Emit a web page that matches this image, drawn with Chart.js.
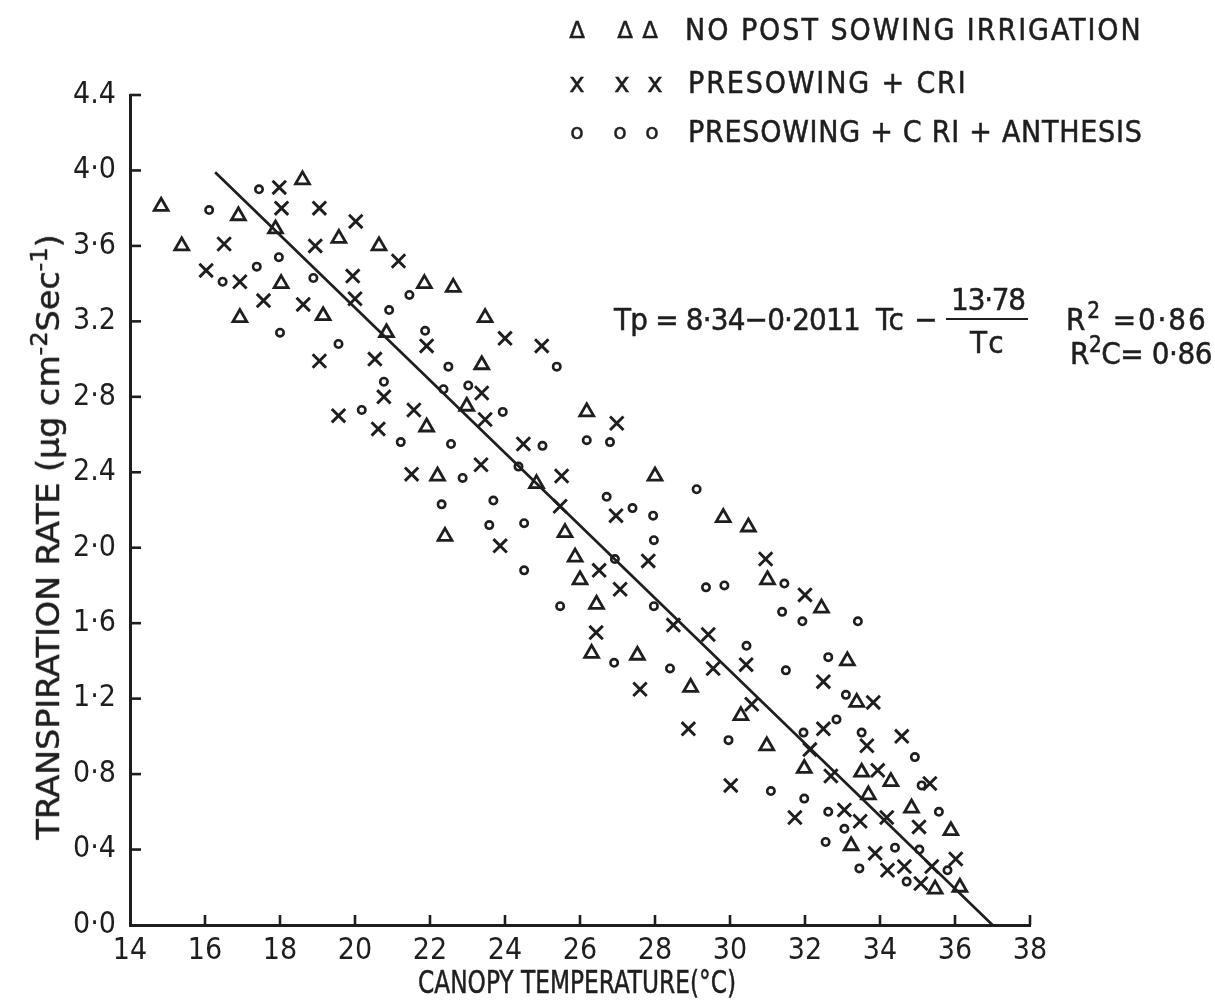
<!DOCTYPE html>
<html><head><meta charset="utf-8">
<script src="https://cdn.jsdelivr.net/npm/chart.js@4.4.1/dist/chart.umd.min.js"></script>
<style>
html,body{margin:0;padding:0;background:#fff;}
#wrap{position:relative;width:1215px;height:1001px;overflow:hidden;background:#fff;}
#c{position:absolute;left:0;top:0;}
.t{position:absolute;white-space:nowrap;color:#1e1e1e;font-family:'Liberation Sans Narrow','DejaVu Sans Condensed','Liberation Sans',sans-serif;font-size:30px;line-height:1;-webkit-text-stroke:0.5px #1e1e1e;}
.t sup{font-size:0.72em;vertical-align:0.5em;line-height:0;}
.sym{transform:translate(-50%,-50%);font-family:'DejaVu Sans','Liberation Sans',sans-serif;}
.lt{transform:translateY(-50%);}
.ct{transform:translate(-50%,-50%);}
#bar{position:absolute;border-top:2.5px solid #1e1e1e;}
</style></head>
<body><div id="wrap">
<canvas id="c" width="1215" height="1001"></canvas>
<div class="t sym" style="left:577px;top:30px;font-size:23px">Δ</div>
<div class="t sym" style="left:625px;top:30px;font-size:23px">Δ</div>
<div class="t sym" style="left:650px;top:30px;font-size:23px">Δ</div>
<div class="t lt" style="left:685px;top:30px" data-w="458">NO POST SOWING IRRIGATION</div>
<div class="t sym" style="left:577px;top:83px;font-size:26px">x</div>
<div class="t sym" style="left:622px;top:83px;font-size:26px">x</div>
<div class="t sym" style="left:655px;top:83px;font-size:26px">x</div>
<div class="t lt" style="left:688px;top:83px" data-w="280">PRESOWING + CRI</div>
<div class="t sym" style="left:577px;top:132px;font-size:22px">o</div>
<div class="t sym" style="left:620px;top:132px;font-size:22px">o</div>
<div class="t sym" style="left:652px;top:132px;font-size:22px">o</div>
<div class="t lt" style="left:688px;top:132px" data-w="455">PRESOWING + C RI + ANTHESIS</div>
<div class="t lt" style="left:614px;top:319px;font-size:31px" data-w="246">Tp = 8·34−0·2011</div>
<div class="t lt" style="left:876px;top:319px;font-size:31px" data-w="62">Tc −</div>
<div class="t ct" style="left:988px;top:299px;font-size:31px" data-w="74">13·78</div>
<div id="bar" style="left:946px;top:318px;width:82px"></div>
<div class="t ct" style="left:990px;top:342px;font-size:31px" data-w="40">Tc</div>
<div class="t lt" style="left:1066px;top:319px;font-size:31px" data-w="141">R<sup>2</sup> =0·86</div>
<div class="t lt" style="left:1070px;top:353px;font-size:31px" data-w="142">R<sup>2</sup>C= 0·86</div>
<div class="t" id="ytitle" style="left:48px;top:537px;font-size:32px" data-sw="605" data-rot="1">TRANSPIRATION RATE (µg cm<sup>-2</sup>Sec<sup>-1</sup>)</div>
<div class="t" id="xtitle" style="left:577px;top:982px;font-size:32px" data-sw="318">CANOPY TEMPERATURE(°C)</div>
</div>
<script>
// ---------- data ----------
const xTickValues = [14,16,18,20,22,24,26,28,30,32,34,36,38];
const xTickLabels = ['14','16','18','20','22','24','26','28','30','32','34','36','38'];
const yTickLabels = ['0·0','0·4','0·8','1·2','1·6','2·0','2.4','2·8','3.2','3·6','4·0','4.4'];

// NO POST SOWING IRRIGATION (triangles)
const noIrrTemp = [14.83,16.89,18.6,17.88,15.38,19.57,20.64,18.03,21.85,19.15,16.93,20.84,21.91,
  22.62,23.47,23.38,22.98,26.18,22.2,24.84,28.0,25.6,22.4,25.87,26.0,
  29.82,30.49,31.0,26.44,26.31,27.53,28.95,30.29,30.98,
  32.44,33.13,33.38,31.98,33.51,34.29,33.69,34.84,35.89,33.23,35.47,36.13];
const noIrrRate = [3.81,3.76,3.95,3.69,3.60,3.64,3.60,3.40,3.40,3.23,3.22,3.14,2.64,
  3.38,3.22,2.97,2.75,2.72,2.38,2.34,2.38,2.08,2.06,1.95,1.83,
  2.16,2.11,1.83,1.70,1.44,1.43,1.26,1.11,0.95,
  1.68,1.40,1.18,0.83,0.81,0.76,0.69,0.62,0.50,0.42,0.19,0.20];

// PRESOWING + CRI (crosses)
const criTemp = [17.98,18.04,19.05,20.02,16.51,18.94,21.16,16.03,16.93,19.94,20.0,17.56,18.62,21.91,19.05,20.53,20.77,19.56,20.62,21.57,
  24.0,24.98,23.38,23.47,24.49,26.98,21.51,23.36,25.51,25.47,26.96,23.87,27.82,26.51,27.07,
  30.95,28.49,29.42,26.43,27.6,29.55,30.43,30.58,28.89,30.02,
  32.0,32.49,33.82,32.49,33.65,34.58,32.13,32.69,33.94,35.33,31.73,33.05,33.47,34.18,35.04,33.87,36.02,34.2,34.65,35.38,35.09];
const criRate = [3.91,3.80,3.80,3.73,3.61,3.60,3.52,3.47,3.41,3.44,3.32,3.31,3.29,3.07,2.99,3.00,2.80,2.70,2.63,2.73,
  3.11,3.07,2.82,2.68,2.55,2.66,2.39,2.44,2.38,2.22,2.17,2.01,1.93,1.88,1.78,
  1.94,1.59,1.54,1.55,1.25,1.36,1.38,1.17,1.04,0.74,
  1.75,1.29,1.18,1.04,0.95,1.00,0.93,0.79,0.82,0.75,0.57,0.61,0.55,0.57,0.52,0.38,0.35,0.29,0.31,0.31,0.22];

// PRESOWING + CRI + ANTHESIS (circles)
const anthTemp = [16.11,17.44,17.97,17.38,16.47,18.89,21.45,20.91,21.87,18.0,19.56,20.77,20.18,21.22,
  25.38,22.49,22.36,23.02,23.94,22.56,25.0,26.18,26.8,22.87,24.36,29.11,22.31,23.69,26.71,27.4,27.95,23.58,24.51,27.97,26.93,24.51,
  31.45,29.36,29.85,31.39,25.47,27.97,26.91,28.4,30.44,31.49,29.96,31.09,
  31.93,33.41,32.62,33.09,32.84,31.96,33.51,34.93,35.11,31.98,32.62,33.05,35.57,32.55,34.4,35.05,33.45,35.8,34.71];
const anthRate = [3.79,3.90,3.54,3.49,3.41,3.43,3.34,3.26,3.15,3.14,3.08,2.88,2.73,2.56,
  2.96,2.96,2.84,2.86,2.72,2.55,2.54,2.57,2.56,2.37,2.43,2.31,2.23,2.25,2.27,2.21,2.17,2.12,2.13,2.04,1.94,1.88,
  1.81,1.79,1.80,1.66,1.69,1.69,1.39,1.36,1.48,1.35,0.98,0.71,
  1.61,1.61,1.42,1.22,1.09,1.02,1.02,0.89,0.74,0.67,0.60,0.51,0.60,0.44,0.41,0.40,0.30,0.29,0.23];

// fitted line (as drawn)
const fitTemp = [16.27, 37.0];
const fitRate = [3.99, 0.0];

// ---------- chart ----------
const INK = '#1e1e1e';
const FONT = "'Liberation Sans Narrow','DejaVu Sans Condensed','Liberation Sans',sans-serif";
const zip = (a,b) => a.map((v,i)=>({x:v,y:b[i]}));

const inwardTicks = {
  id:'inwardTicks',
  afterDraw(chart){
    const {ctx, chartArea:a, scales:{x,y}} = chart;
    ctx.save(); ctx.strokeStyle = INK; ctx.lineWidth = 2.6;
    x.ticks.forEach(t=>{ const px = x.getPixelForValue(t.value); if (px < a.left+2) return;
      ctx.beginPath(); ctx.moveTo(px,a.bottom); ctx.lineTo(px,a.bottom-10); ctx.stroke(); });
    y.ticks.forEach(t=>{ const py = y.getPixelForValue(t.value); if (py > a.bottom-2) return;
      ctx.beginPath(); ctx.moveTo(a.left,py); ctx.lineTo(a.left+11,py); ctx.stroke(); });
    ctx.restore();
  }
};

new Chart(document.getElementById('c'), {
  type:'scatter',
  data:{ datasets:[
    {label:'NO POST SOWING IRRIGATION', data:zip(noIrrTemp,noIrrRate), pointStyle:'triangle', pointRadius:8,
     borderColor:INK, backgroundColor:'rgba(0,0,0,0)', borderWidth:2.8},
    {label:'PRESOWING + CRI', data:zip(criTemp,criRate), pointStyle:'crossRot', pointRadius:9.5,
     borderColor:INK, backgroundColor:INK, borderWidth:2.9},
    {label:'PRESOWING + CRI + ANTHESIS', data:zip(anthTemp,anthRate), pointStyle:'circle', pointRadius:3.7,
     borderColor:INK, backgroundColor:'rgba(0,0,0,0)', borderWidth:2.6},
    {type:'line', label:'fit', data:zip(fitTemp,fitRate), showLine:true, pointRadius:0,
     borderColor:INK, borderWidth:2.7, fill:false}
  ]},
  options:{
    responsive:false, animation:false, devicePixelRatio:1,
    layout:{padding:{top:95,right:185,bottom:0,left:0}},
    plugins:{legend:{display:false}, tooltip:{enabled:false}},
    scales:{
      x:{type:'linear', min:14, max:38,
        afterBuildTicks(s){ s.ticks = xTickValues.map(v=>({value:v})); },
        afterFit(s){ s.height = 76; },
        grid:{display:false, drawTicks:false},
        border:{display:true, color:INK, width:3},
        ticks:{color:INK, font:{family:FONT, size:30}, padding:8, maxRotation:0, autoSkip:false,
          callback:(v)=>xTickLabels[xTickValues.indexOf(v)] ?? ''},
        title:{display:false}
      },
      y:{type:'linear', min:0, max:4.4,
        afterBuildTicks(s){ s.ticks = yTickLabels.map((l,i)=>({value:+(i*0.4).toFixed(1)})); },
        afterFit(s){ s.width = 130; },
        grid:{display:false, drawTicks:false},
        border:{display:true, color:INK, width:3},
        ticks:{color:INK, font:{family:FONT, size:30}, padding:14, autoSkip:false,
          callback:(v)=>yTickLabels[Math.round(v/0.4)] ?? ''}
      }
    }
  },
  plugins:[inwardTicks]
});

// stretch annotation text to the widths it has in the figure
document.querySelectorAll('[data-w]').forEach(el=>{
  const target = +el.dataset.w;
  const n = el.textContent.length;
  const w = el.offsetWidth;
  el.style.letterSpacing = ((target - w)/n).toFixed(2)+'px';
});
// condense axis titles to the widths they have in the figure
document.querySelectorAll('[data-sw]').forEach(el=>{
  const k = (+el.dataset.sw) / el.offsetWidth;
  el.style.transform = 'translate(-50%,-50%)' + (el.dataset.rot ? ' rotate(-90deg)' : '') + ' scaleX(' + k.toFixed(3) + ')';
});
</script>
</body></html>
